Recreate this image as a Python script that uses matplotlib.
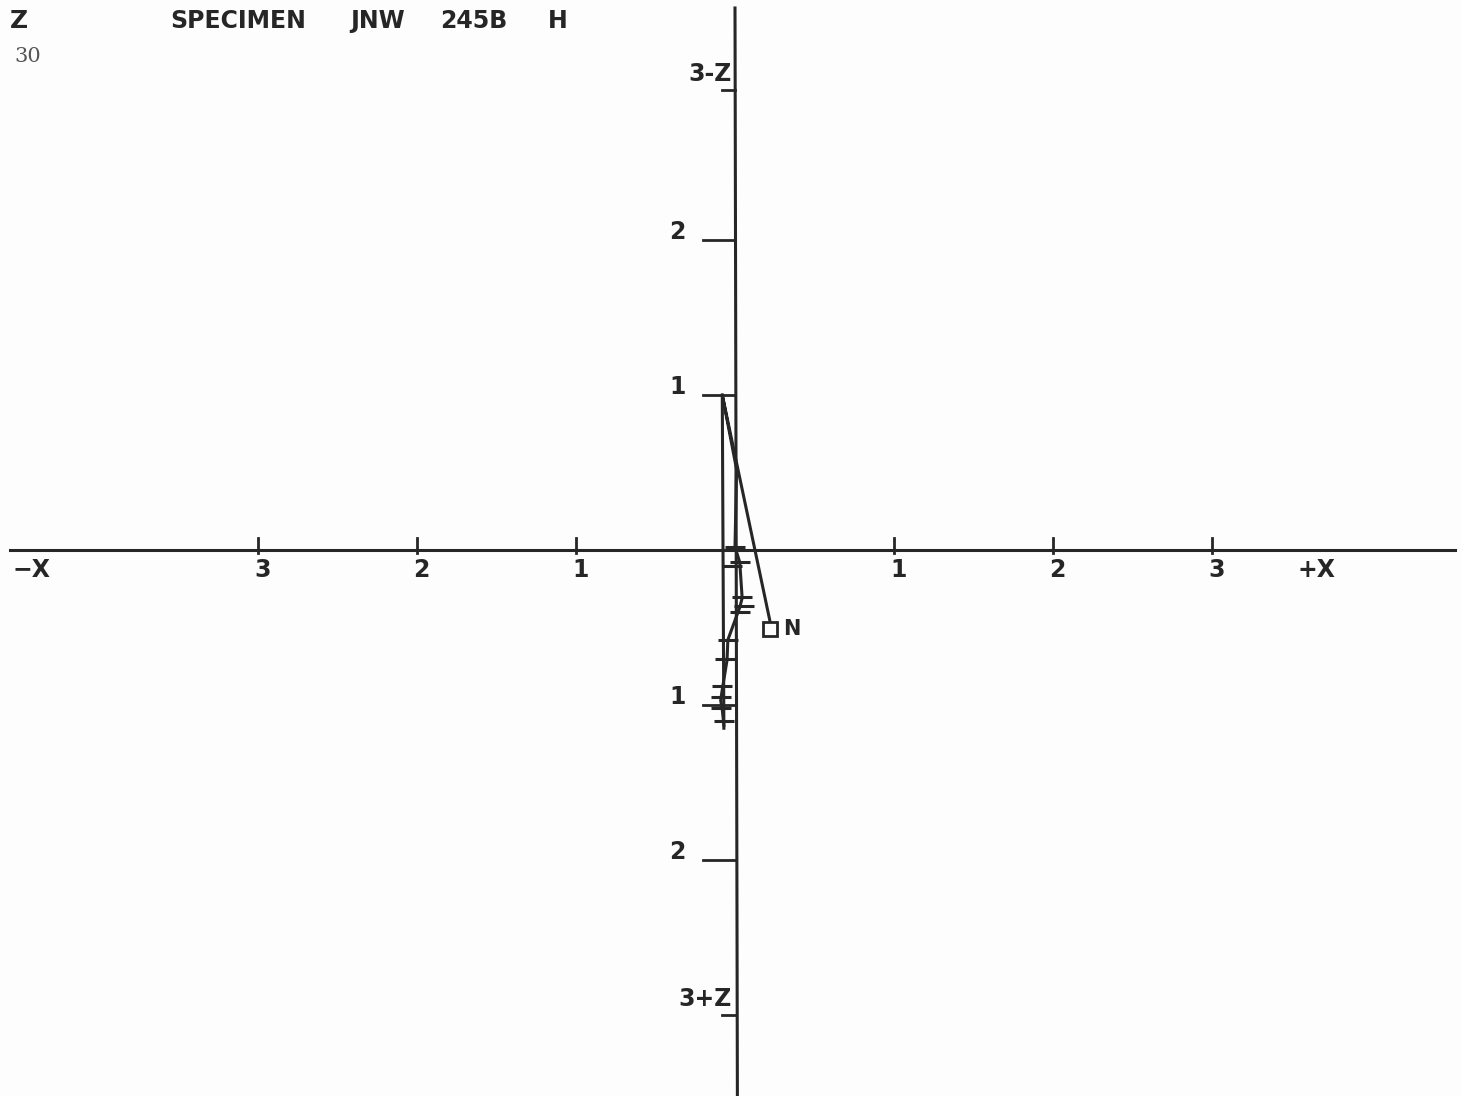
import numpy as np
import matplotlib
matplotlib.use("Agg")
import matplotlib.pyplot as plt

# demag path as drawn by the plotter (units of the axis scale)
path_x = [0.22, -0.08, -0.05, 0.01, 0.0, 0.03, 0.045, 0.03, -0.045, -0.05, -0.08, -0.09, -0.08, -0.07]
path_y = [-0.46, 1.0, 0.84, 0.52, 0.02, -0.08, -0.31, -0.37, -0.58, -0.71, -0.90, -0.97, -1.03, -1.13]
# second projection, straight run
proj_x = [-0.08, -0.07]
proj_y = [1.0, -1.15]
# step marks (small bars)
step_x = [0.0, 0.03, 0.045, 0.055, 0.03, -0.045, -0.06, -0.08, -0.09, -0.085, -0.07, -0.02]
step_y = [0.02, -0.08, -0.30, -0.36, -0.40, -0.58, -0.70, -0.88, -0.95, -1.02, -1.10, -0.10]

x_ticks = [-3, -2, -1, 1, 2, 3]
y_ticks = [-2, -1, 1, 2]
title_words = ["SPECIMEN", "JNW", "245B", "H"]
title_px = [170, 350, 440, 548]

W, H = 1461, 1096
ox, oy, ux, uy = 735, 550, 159.0, 155.0   # origin and unit in pixels

fig = plt.figure(figsize=(W / 100, H / 100), dpi=100)
fig.patch.set_facecolor("#fdfdfd")
ax = fig.add_axes([0, 0, 1, 1])
ax.set_facecolor("#fdfdfd")
ax.set_xlim(-ox / ux, (W - ox) / ux)
ax.set_ylim((oy - H) / uy, oy / uy)
ax.axis("off")

ink = "#262626"
font = dict(family="DejaVu Sans", weight="bold", color=ink)

# axes
ax.plot([(10 - ox) / ux, (1455 - ox) / ux], [0, 0], color=ink, lw=2.2)
ax.plot([0, 0.015], [(oy - 8) / uy, (oy - 1096) / uy], color=ink, lw=2.2)

for t in x_ticks:
    ax.plot([t, t], [0.075, -0.02], color=ink, lw=2)
    ax.text(t + 0.03, -0.13, str(abs(t)), ha="center", va="center", fontsize=17, **font)
ax.text((12 - ox) / ux, -0.13, "\u2212X", ha="left", va="center", fontsize=17, **font)
ax.text((1298 - ox) / ux, -0.13, "+X", ha="left", va="center", fontsize=17, **font)

for t in y_ticks:
    ax.plot([-0.2, 0], [t, t], color=ink, lw=2)
    ax.text(-0.36, t + 0.05, str(abs(t)), ha="center", va="center", fontsize=17, **font)
ax.plot([-0.08, 0], [2.97, 2.97], color=ink, lw=2)
ax.plot([-0.08, 0], [-3.0, -3.0], color=ink, lw=2)
ax.text(-0.02, 3.07, "3-Z", ha="right", va="center", fontsize=17, **font)
ax.text(-0.02, -2.9, "3+Z", ha="right", va="center", fontsize=17, **font)

# data
ax.plot(path_x, path_y, color=ink, lw=2.2, solid_joinstyle="round")
ax.plot(proj_x, proj_y, color=ink, lw=2.2)
ax.plot(step_x, step_y, ls="none", marker="_", ms=14, mew=2.2, color=ink)
ax.plot([path_x[0]], [path_y[0] - 0.05], ls="none", marker="s", ms=10,
        mfc="none", mec=ink, mew=2)
ax.text(path_x[0] + 0.08, path_y[0] - 0.05, "N", ha="left", va="center", fontsize=15, **font)

# header
fig.text(10 / W, 1 - 21 / H, "Z", ha="left", va="center", fontsize=18, **font)
for w, px in zip(title_words, title_px):
    fig.text(px / W, 1 - 21 / H, w, ha="left", va="center", fontsize=17, **font)
fig.text(14 / W, 1 - 56 / H, "30", ha="left", va="center", fontsize=15,
         family="DejaVu Serif", color="#555555")

fig.savefig("out.png", dpi=100, facecolor=fig.get_facecolor())
